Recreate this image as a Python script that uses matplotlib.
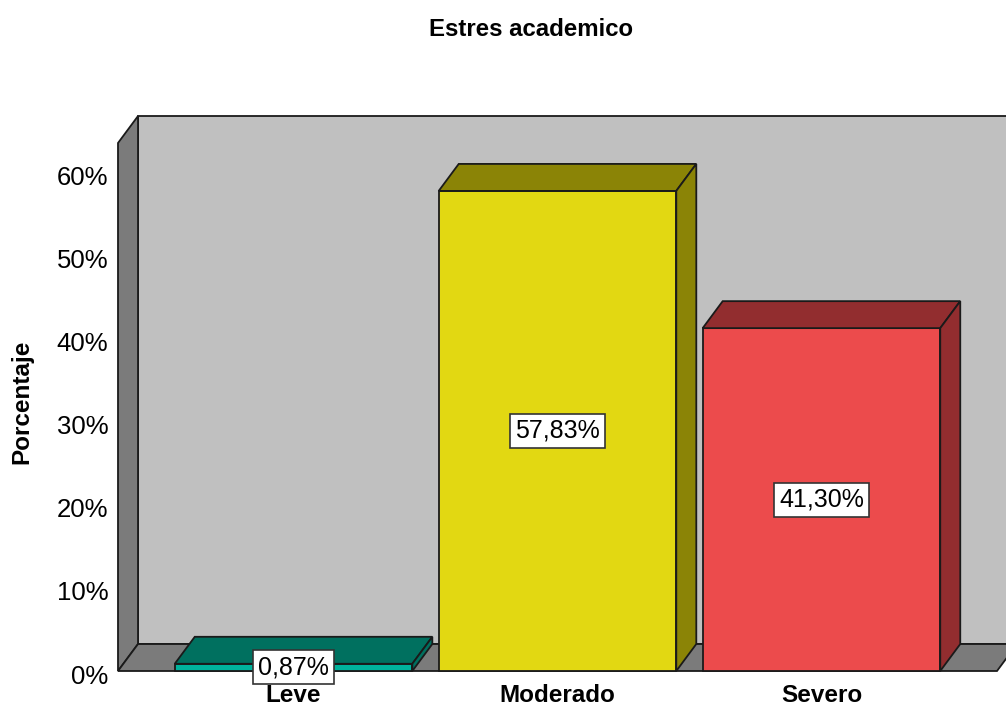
import matplotlib
matplotlib.use('Agg')
import matplotlib.pyplot as plt
from matplotlib.patches import Polygon, Rectangle
from matplotlib.transforms import ScaledTranslation

plt.rcParams['font.family'] = ['Liberation Sans', 'DejaVu Sans']

# datos
categorias = ['Leve', 'Moderado', 'Severo']
porcentajes = [0.87, 57.83, 41.30]
etiquetas = ['0,87%', '57,83%', '41,30%']
ticks_y = [0, 10, 20, 30, 40, 50, 60]

# colores (cara frontal, cara superior/lateral)
frente = ['#00B39C', '#E2D812', '#EC4B4C']
lado = ['#00705F', '#8B8406', '#922D2F']

fig = plt.figure(figsize=(10.06, 7.07), dpi=100)
ax = fig.add_axes([118/1006, 36/707, 879/1006, 528/707])
xmin, xmax = -0.665, 2.665
ymax = 63.6
ax.set_xlim(xmin, xmax)
ax.set_ylim(0, ymax)

# profundidad 3D
dx = 0.0758
dy = 3.25
ancho = 0.9
lw = 1.3

# pared del fondo, pared izquierda y piso
ax.add_patch(Rectangle((xmin + dx, dy), (xmax - xmin) + 1, ymax, facecolor='#C0C0C0',
                       edgecolor='#1a1a1a', lw=lw, clip_on=False, zorder=1))
ax.add_patch(Polygon([(xmin, 0), (xmin + dx, dy), (xmin + dx, ymax + dy), (xmin, ymax)],
                     closed=True, facecolor='#7B7B7B', edgecolor='#1a1a1a', lw=lw,
                     clip_on=False, zorder=2))
ax.add_patch(Polygon([(xmin, 0), (xmax, 0), (xmax + dx, dy), (xmin + dx, dy)],
                     closed=True, facecolor='#7B7B7B', edgecolor='#1a1a1a', lw=lw,
                     clip_on=False, zorder=2))

# barras
for i, v in enumerate(porcentajes):
    x0 = i - ancho/2
    x1 = i + ancho/2
    ax.add_patch(Rectangle((x0, 0), ancho, v, facecolor=frente[i], edgecolor='#1a1a1a',
                           lw=lw, clip_on=False, zorder=3))
    ax.add_patch(Polygon([(x0, v), (x1, v), (x1 + dx, v + dy), (x0 + dx, v + dy)],
                         closed=True, facecolor=lado[i], edgecolor='#1a1a1a', lw=lw,
                         clip_on=False, zorder=3))
    ax.add_patch(Polygon([(x1, 0), (x1 + dx, dy), (x1 + dx, v + dy), (x1, v)],
                         closed=True, facecolor=lado[i], edgecolor='#1a1a1a', lw=lw,
                         clip_on=False, zorder=3))
    ax.text(i, v/2, etiquetas[i], ha='center', va='center', fontsize=18, zorder=5,
            bbox=dict(boxstyle='square,pad=0.2', facecolor='white', edgecolor='#333333', lw=1.2))

for s in ax.spines.values():
    s.set_visible(False)
ax.set_yticks(ticks_y)
ax.set_yticklabels([f'{t}%' for t in ticks_y], fontsize=18.5)
ax.set_xticks(range(len(categorias)))
ax.set_xticklabels(categorias, fontsize=17.5, fontweight='bold')
ax.tick_params(axis='y', length=0, pad=7)
ax.tick_params(axis='x', length=0, pad=9)
bajar = ScaledTranslation(0, -3/100, fig.dpi_scale_trans)
for lab in ax.get_yticklabels():
    lab.set_transform(lab.get_transform() + bajar)

fig.text(22/1006, 1 - 402/707, 'Porcentaje', rotation=90, ha='center', va='center',
         fontsize=17.5, fontweight='bold')
fig.text(531/1006, 1 - 29/707, 'Estres academico', ha='center', va='center',
         fontsize=17.3, fontweight='bold')

fig.savefig('out.png', dpi=100)
